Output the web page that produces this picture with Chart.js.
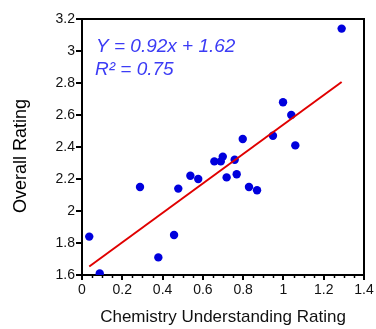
<!DOCTYPE html>
<html>
<head>
<meta charset="utf-8">
<script src="https://cdn.jsdelivr.net/npm/chart.js@4"></script>
<style>
  html, body { margin: 0; padding: 0; background: #fff; }
  #wrap { width: 376px; height: 329px; }
</style>
</head>
<body>
<div id="wrap"><canvas id="ratingChart"></canvas></div>
<script>
// chemistry understanding vs overall rating
const chemRating = [0.036, 0.088, 0.288, 0.379, 0.457, 0.478, 0.538, 0.577, 0.657, 0.689, 0.699,
    0.718, 0.758, 0.768, 0.798, 0.829, 0.869, 0.948, 0.998, 1.039, 1.059, 1.289];
const overallRating = [1.84, 1.61, 2.15, 1.71, 1.85, 2.14, 2.22, 2.20, 2.31, 2.31, 2.34,
    2.21, 2.32, 2.23, 2.45, 2.15, 2.13, 2.47, 2.68, 2.60, 2.41, 3.14];
const fitX = [0.036, 1.289];
const fitY = [1.653, 2.806];
const xTicks = [0, 0.2, 0.4, 0.6, 0.8, 1, 1.2, 1.4];
const yTicks = [1.6, 1.8, 2, 2.2, 2.4, 2.6, 2.8, 3, 3.2];
const eqLines = ['Y = 0.92x + 1.62', 'R\u00B2 = 0.75'];

document.addEventListener('DOMContentLoaded', function() {
    const ctx = document.getElementById('ratingChart');

    // box, minor ticks, equation and y title
    const extras = {
        id: 'extras',
        afterDraw(chart) {
            const c = chart.ctx;
            const a = chart.chartArea;
            const xs = chart.scales.x;
            c.save();
            c.strokeStyle = '#000';
            c.lineWidth = 2;
            c.beginPath();
            c.moveTo(a.left, a.top);
            c.lineTo(a.right, a.top);
            c.lineTo(a.right, a.bottom);
            c.stroke();
            // minor ticks on x
            c.lineWidth = 1.5;
            for (let i = 0; i <= 28; i++) {
                if (i % 4 === 0) continue;
                const px = Math.round(xs.getPixelForValue(i * 0.05)) + 0.5;
                c.beginPath();
                c.moveTo(px, a.bottom);
                c.lineTo(px, a.bottom + 3);
                c.stroke();
            }
            c.fillStyle = '#3c3cf5';
            c.font = 'italic 19px "Liberation Sans", Arial, sans-serif';
            c.textBaseline = 'alphabetic';
            c.fillText(eqLines[0], 96, 52);
            c.fillText(eqLines[1], 95, 75);
            c.fillStyle = '#000';
            c.font = '18px "Liberation Sans", Arial, sans-serif';
            c.textAlign = 'center';
            c.textBaseline = 'middle';
            c.translate(21, 156);
            c.rotate(-Math.PI / 2);
            c.fillText('Overall Rating', 0, 0);
            c.restore();
        }
    };

    new Chart(ctx, {
        type: 'scatter',
        data: {
            datasets: [{
                label: 'Fit',
                type: 'line',
                data: fitX.map((x, i) => ({x: x, y: fitY[i]})),
                borderColor: '#e00000',
                borderWidth: 2,
                pointRadius: 0,
                fill: false
            }, {
                label: 'Ratings',
                data: chemRating.map((x, i) => ({x: x, y: overallRating[i]})),
                backgroundColor: '#0000dd',
                borderWidth: 0,
                pointRadius: 4.2
            }]
        },
        options: {
            responsive: true,
            maintainAspectRatio: false,
            animation: false,
            layout: { padding: { top: 19, right: 12, left: 0, bottom: 0 } },
            plugins: {
                legend: { display: false },
                tooltip: { enabled: false }
            },
            scales: {
                x: {
                    type: 'linear',
                    min: 0,
                    max: 1.4,
                    afterBuildTicks: s => { s.ticks = xTicks.map(v => ({value: v})); },
                    afterFit: s => { s.height = 54; },
                    grid: { drawOnChartArea: false, color: '#000', lineWidth: 2, tickLength: 5 },
                    border: { display: true, color: '#000', width: 2 },
                    ticks: {
                        color: '#111',
                        padding: 2,
                        maxRotation: 0,
                        callback: v => String(v),
                        font: { family: '"Liberation Sans", Arial', size: 14 }
                    },
                    title: {
                        display: true,
                        text: 'Chemistry Understanding Rating',
                        color: '#111',
                        padding: { top: 0, bottom: 1 },
                        font: { family: '"Liberation Sans", Arial', size: 17 }
                    }
                },
                y: {
                    type: 'linear',
                    min: 1.6,
                    max: 3.2,
                    afterBuildTicks: s => { s.ticks = yTicks.map(v => ({value: v})); },
                    afterFit: s => { s.width = 82; },
                    grid: { drawOnChartArea: false, color: '#000', lineWidth: 2, tickLength: 6 },
                    border: { display: true, color: '#000', width: 2 },
                    ticks: {
                        color: '#111',
                        padding: 1,
                        callback: v => String(v),
                        font: { family: '"Liberation Sans", Arial', size: 14 }
                    }
                }
            }
        },
        plugins: [extras]
    });
});
</script>
</body>
</html>
